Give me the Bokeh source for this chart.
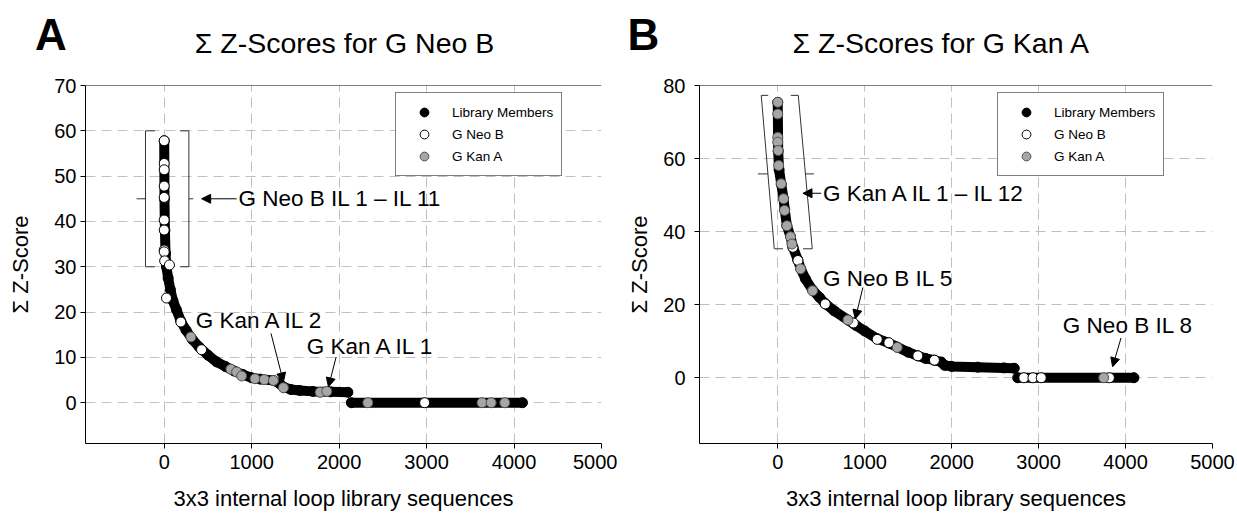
from bokeh.plotting import figure
from bokeh.layouts import row, column
from bokeh.models import (Range1d, FixedTicker, Label, Arrow, NormalHead, Legend,
                          LegendItem, Span)
from bokeh.core.properties import value
from bokeh.embed import file_html
from bokeh.resources import INLINE

FONT = "Liberation Sans"

# ---------------- Panel A data (G Neo B screen) ----------------
lib_rank_A = [0, 3, 8, 15, 25, 45, 70, 100, 140, 190, 250, 320, 400, 500, 600, 700,
              800, 900, 1000, 1100, 1250, 1320, 1370, 1450, 1550, 1700, 1900, 2100]
lib_score_A = [57.8, 45, 38, 33, 30, 27.5, 25, 22.5, 20.5, 18, 16, 14, 12.3, 10.5, 9.0, 8.0,
               7.0, 6.2, 5.5, 5.2, 4.9, 4.2, 3.4, 2.9, 2.7, 2.5, 2.4, 2.3]
lib_low_rank_A = [2140, 4096]
lib_low_score_A = [0.0, 0.0]
neo_rank_A = [0, 0, 0, 0, 0, 0, 0, 0, 0, 5, 60, 26, 190, 427, 2978]
neo_score_A = [57.8, 52.8, 51.4, 47.8, 45.3, 40.3, 38.1, 33.7, 33.3, 31.3, 30.4, 23.1, 17.8, 11.7, 0]
kan_rank_A = [305, 763, 828, 885, 1038, 1145, 1249, 1363, 1783, 1859, 2328, 3634, 3738, 3894]
kan_score_A = [14.5, 7.4, 6.8, 5.9, 5.3, 5.1, 4.9, 3.3, 2.3, 2.5, 0, 0, 0, 0]

# ---------------- Panel B data (G Kan A screen) ----------------
lib_rank_B = [0, 5, 15, 40, 67, 80, 105, 147, 175, 230, 265, 320, 400, 480, 546, 650, 807,
              900, 1000, 1144, 1278, 1374, 1500, 1611, 1700, 1802, 1880, 1920, 2000, 2300, 2600, 2720]
lib_score_B = [75.4, 62, 57, 53, 49, 46, 41.6, 38.6, 35.7, 32.3, 29.8, 27, 24, 22, 20.3, 18.3, 15.8,
               14.3, 12.8, 10.7, 9.5, 8.4, 7.0, 6.0, 5.3, 4.8, 4.3, 3.4, 3.1, 2.9, 2.7, 2.6]
lib_low_rank_B = [2760, 4096]
lib_low_score_B = [0.0, 0.0]
neo_rank_B = [174, 232, 546, 870, 1144, 1278, 1611, 1802, 2830, 2935, 3030, 3814]
neo_score_B = [35.7, 32.1, 20.2, 15.0, 10.5, 9.6, 6.0, 4.8, 0, 0, 0, 0]
kan_rank_B = [0, 0, 0, 0, 5, 10, 40, 67, 78, 105, 147, 163, 262, 400, 807, 1374, 3749]
kan_score_B = [75.4, 72.2, 65.8, 64.5, 62.2, 58.1, 53.1, 49.0, 45.8, 41.6, 38.6, 36.6, 29.8,
               23.8, 15.8, 8.3, 0]

# ticks
x_ticks = [0, 1000, 2000, 3000, 4000, 5000]
y_ticks_A = [0, 10, 20, 30, 40, 50, 60, 70]
y_ticks_B = [0, 20, 40, 60, 80]

legend_labels = ["Library Members", "G Neo B", "G Kan A"]
x_title = "3x3 internal loop library sequences"
y_title = "\u03a3 Z-Score"
panel_letters = ["A", "B"]
panel_titles = ["\u03a3 Z-Scores for G Neo B", "\u03a3 Z-Scores for G Kan A"]

GREY_FILL = "#a6a6a6"
GREY_LINE = "#505050"
HEADER_H = 65
ANN = "22.5px"


def panel(width, border_left, border_right, xr, yr, yt, lib_r, lib_s, low_r, low_s,
          neo_r, neo_s, kan_r, kan_s, legend_loc, ylab_standoff, ytick_standoff):
    p = figure(width=width, height=517 - HEADER_H, output_backend="svg", toolbar_location=None,
               x_range=Range1d(*xr), y_range=Range1d(*yr),
               min_border_left=border_left, min_border_right=border_right,
               min_border_top=20, min_border_bottom=74)
    p.outline_line_color = None
    p.background_fill_color = "white"
    p.border_fill_color = "white"
    for ax, ticks in ((p.xaxis, x_ticks), (p.yaxis, yt)):
        ax.ticker = FixedTicker(ticks=ticks)
        ax.major_label_text_font = FONT
        ax.major_label_text_font_size = "20px"
        ax.major_label_text_color = "black"
        ax.axis_label_text_font = FONT
        ax.axis_label_text_font_size = "22px"
        ax.axis_label_text_font_style = "normal"
        ax.axis_label_text_color = "black"
        ax.axis_line_color = "black"
        ax.major_tick_line_color = "black"
        ax.major_tick_out = 5
        ax.major_tick_in = 0
        ax.minor_tick_line_color = None
    p.xaxis.axis_label = x_title
    p.yaxis.axis_label = y_title
    p.xaxis.major_label_standoff = 6
    p.xaxis.axis_label_standoff = 14
    p.yaxis.major_label_standoff = ytick_standoff
    p.yaxis.axis_label_standoff = ylab_standoff
    for g in (p.xgrid, p.ygrid):
        g.grid_line_color = "#c0c0c0"
        g.grid_line_dash = "10 6"
        g.grid_line_width = 1
    p.add_layout(Span(location=yr[1], dimension="width", line_color="black", line_width=1.2))

    # library band
    p.line(lib_r, lib_s, line_width=10, color="black", line_cap="round", line_join="round")
    p.line(low_r, low_s, line_width=10, color="black", line_cap="round", line_join="round")
    r_lib = p.scatter(lib_r + low_r, lib_s + low_s, size=10, color="black")
    r_neo = p.scatter(neo_r, neo_s, size=10, fill_color="white", line_color="black", line_width=1)
    r_kan = p.scatter(kan_r, kan_s, size=10, fill_color=GREY_FILL, line_color=GREY_LINE, line_width=1)

    leg = Legend(items=[LegendItem(label=legend_labels[0], renderers=[r_lib]),
                        LegendItem(label=legend_labels[1], renderers=[r_neo]),
                        LegendItem(label=legend_labels[2], renderers=[r_kan])],
                 location=legend_loc)
    leg.border_line_color = "black"
    leg.border_line_width = 1
    leg.background_fill_color = "white"
    leg.background_fill_alpha = 1
    leg.label_text_font = FONT
    leg.label_text_font_size = "13.5px"
    leg.label_text_color = "black"
    leg.padding = 8
    leg.spacing = 0
    leg.margin = 0
    leg.glyph_width = 40
    leg.glyph_height = 22
    leg.label_height = 22
    leg.label_standoff = 8
    p.add_layout(leg)
    return p


def text(p, x, y, s, size=ANN, align="left"):
    p.add_layout(Label(x=x, y=y, text=s, text_font=FONT, text_font_size=size,
                       text_align=align, text_baseline="middle", text_color="black"))


def arrow(p, x0, y0, x1, y1):
    p.add_layout(Arrow(x_start=x0, y_start=y0, x_end=x1, y_end=y1, line_width=1,
                       line_color="black",
                       end=NormalHead(size=9, fill_color="black", line_color="black")))


def bracket(p, xs, ys):
    p.line(xs, ys, line_color="#333333", line_width=1)


# ---------------- Header (panel letters + titles) ----------------
header = figure(width=1237, height=HEADER_H, output_backend="svg", toolbar_location=None,
                x_range=Range1d(0, 1237), y_range=Range1d(HEADER_H, 0),
                x_axis_location=None, y_axis_location=None,
                min_border=0, min_border_left=0, min_border_right=0,
                min_border_top=0, min_border_bottom=0)
header.outline_line_color = None
header.xgrid.visible = False
header.ygrid.visible = False
header.text(x=[50.5, 643], y=[34, 34], text=panel_letters, text_font=value(FONT),
            text_font_size="44px", text_font_style="bold", text_align="center",
            text_baseline="middle", text_color="black")
header.text(x=[344, 941], y=[42, 42], text=panel_titles, text_font=value(FONT),
            text_font_size="28.5px", text_align="center", text_baseline="middle",
            text_color="black")

# ---------------- Panel A ----------------
pA = panel(617, 85, 16, (-900, 5000), (-9, 70), y_ticks_A, lib_rank_A, lib_score_A,
           lib_low_rank_A, lib_low_score_A, neo_rank_A, neo_score_A, kan_rank_A, kan_score_A,
           (310, 267), 18, 4)
bracket(pA, [-107, -214, -214, -107], [60, 60, 30, 30])
bracket(pA, [-214, -316], [45, 45])
bracket(pA, [179, 282, 282, 179], [60, 60, 30, 30])
bracket(pA, [282, 332], [45, 45])
arrow(pA, 828, 45, 428, 45)
text(pA, 850, 45, "G Neo B IL 1 \u2013 IL 11")
text(pA, 361, 18.2, "G Kan A IL 2")
arrow(pA, 1221, 15.3, 1363, 4.6)
text(pA, 1630, 12.3, "G Kan A IL 1")
arrow(pA, 1966, 10.1, 1878, 3.5)

# ---------------- Panel B ----------------
pB = panel(620, 82, 25, (-900, 5000), (-18, 80), y_ticks_B, lib_rank_B, lib_score_B,
           lib_low_rank_B, lib_low_score_B, neo_rank_B, neo_score_B, kan_rank_B, kan_score_B,
           (298, 267), 8, 9)
bracket(pB, [-110, -190, -40, 60], [77.3, 77.3, 35.3, 35.3])
bracket(pB, [-113, -228], [55.8, 55.8])
bracket(pB, [150, 236, 397, 290], [77.3, 77.3, 35.3, 35.3])
bracket(pB, [318, 416], [55.8, 55.8])
arrow(pB, 500, 50.5, 290, 50.5)
text(pB, 520, 50.5, "G Kan A IL 1 \u2013 IL 12")
text(pB, 520, 27.3, "G Neo B IL 5")
arrow(pB, 979, 24.7, 891, 16.1)
text(pB, 3279, 14.2, "G Neo B IL 8")
arrow(pB, 3948, 10.9, 3851, 3.0)

layout = column(header, row(pA, pB, spacing=0), spacing=0)
open("out.html", "w").write(file_html(layout, INLINE))
